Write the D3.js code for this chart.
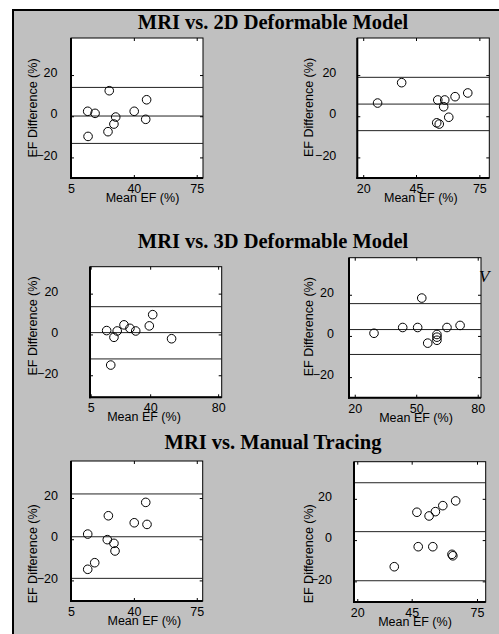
<!DOCTYPE html>
<html>
<head>
<meta charset="utf-8" />
<script src="https://d3js.org/d3.v7.min.js"></script>
<style>
body { margin: 0; background: #fff; }
.title { font-family: "Liberation Serif", "Times New Roman", serif; font-weight: bold; font-size: 20.5px; }
.lbl { font-family: "Liberation Sans", Arial, sans-serif; font-size: 12.5px; }
</style>
</head>
<body>
<script>
// Bland-Altman values: mean EF vs. EF difference (%)
// rows: 2D model, 3D model, manual tracing; left and right column
var mean2D_L = [14.3, 18.4, 26.3, 29.9, 28.9, 25.6, 14.5, 40.2, 47.1, 46.6];
var diff2D_L = [2.4, 1.4, 12.4, -0.4, -3.8, -7.5, -9.8, 2.4, 8.0, -1.5];
var limits2D_L = [14.0, 0.1, -13.2];

var mean2D_R = [26.8, 38.2, 55.3, 58.6, 58.1, 63.5, 69.5, 60.5, 54.8, 56.0];
var diff2D_R = [6.4, 16.3, 7.9, 7.9, 4.6, 9.5, 11.3, -0.5, -3.2, -3.8];
var limits2D_R = [18.9, 5.9, -7.0];

var mean3D_L = [14.4, 18.7, 20.6, 24.6, 28.1, 31.5, 39.5, 41.5, 52.6, 16.8];
var diff3D_L = [1.9, -1.4, 1.7, 4.7, 3.0, 1.7, 4.2, 9.7, -2.1, -15.0];
var limits3D_L = [13.6, 0.9, -12.0];

var mean3D_R = [29.4, 43.4, 50.7, 52.7, 55.6, 60.1, 60.1, 60.1, 65.0, 71.4];
var diff3D_R = [1.3, 4.1, 4.1, 18.4, -3.5, 0.7, -0.6, -2.1, 4.1, 5.1];
var limits3D_R = [15.7, 3.1, -9.0];

var meanMT_L = [14.3, 25.8, 46.6, 40.2, 47.3, 25.2, 28.9, 29.5, 18.2, 14.3];
var diffMT_L = [2.5, 11.4, 17.9, 8.0, 7.2, -0.2, -2.0, -5.7, -11.4, -14.6];
var limitsMT_L = [22.0, 1.2, -19.0];

var meanMT_R = [47.4, 53.0, 55.9, 59.3, 65.2, 48.0, 54.7, 63.5, 63.9, 37.0];
var diffMT_R = [13.5, 11.7, 13.8, 16.7, 19.0, -3.2, -3.2, -6.9, -7.6, -12.9];
var limitsMT_R = [27.8, 4.1, -19.7];

var titles = ["MRI vs. 2D Deformable Model", "MRI vs. 3D Deformable Model", "MRI vs. Manual Tracing"];
var xTicksL = [[5, 40, 75], [5, 40, 80], [5, 40, 75]];
var xTicksR = [[20, 45, 75], [20, 50, 80], [20, 45, 75]];
var yTicks = [-20, 0, 20];
var xLabel = "Mean EF (%)";
var yLabel = "EF Difference (%)";

// layout of each axes box (pixels) and its axis limits
var panels = [
  {mean: mean2D_L, diff: diff2D_L, lim: limits2D_L, xt: xTicksL[0], box: [71, 38, 203, 178], xd: [5, 78.5], yd: [-30, 38], gap: 13.5, ylx: 36.7, lcy: 108, xlc: 142.5},
  {mean: mean2D_R, diff: diff2D_R, lim: limits2D_R, xt: xTicksR[0], box: [357.3, 38, 489.3, 178], xd: [17.2, 79.7], yd: [-30, 38], gap: 21, ylx: 313, lcy: 107.5, xlc: 420.8},
  {mean: mean3D_L, diff: diff3D_L, lim: limits3D_L, xt: xTicksL[1], box: [90, 266.7, 221.7, 397.3], xd: [4.6, 82.1], yd: [-30.8, 33.2], gap: 31.7, ylx: 37, lcy: 326, xlc: 144},
  {mean: mean3D_R, diff: diff3D_R, lim: limits3D_R, xt: xTicksR[1], box: [349, 257.7, 481, 397.7], xd: [17.2, 81.6], yd: [-30, 38], gap: 15, ylx: 313, lcy: 326.7, xlc: 416},
  {mean: meanMT_L, diff: diffMT_L, lim: limitsMT_L, xt: xTicksL[2], box: [71, 461, 202.7, 601], xd: [5, 78.3], yd: [-30, 38], gap: 13, ylx: 36.7, lcy: 553.8, xlc: 144.3},
  {mean: meanMT_R, diff: diffMT_R, lim: limitsMT_R, xt: xTicksR[2], box: [354, 461.7, 485.7, 602], xd: [18.5, 79], yd: [-30, 38], gap: 22, ylx: 313.3, lcy: 553.8, xlc: 415}
];
var titleY = [29.3, 248.3, 449.3];

var W = 499, H = 634;
var svg = d3.select("body").append("svg").attr("width", W).attr("height", H);

// figure background with frame
svg.append("rect").attr("x", 13).attr("y", 10).attr("width", W).attr("height", H)
  .attr("fill", "#c0c0c0").attr("stroke", "#000").attr("stroke-width", 2);

panels.forEach(function(p) {
  var b = p.box;
  var x = d3.scaleLinear().domain(p.xd).range([b[0], b[2]]);
  var y = d3.scaleLinear().domain(p.yd).range([b[3], b[1]]);
  var g = svg.append("g");

  g.append("rect").attr("x", b[0]).attr("y", b[1])
    .attr("width", b[2] - b[0]).attr("height", b[3] - b[1])
    .attr("fill", "#fff").attr("stroke", "#000").attr("stroke-width", 1);

  // limits of agreement
  g.selectAll(".lim").data(p.lim).enter().append("line")
    .attr("x1", b[0]).attr("x2", b[2])
    .attr("y1", function(d) { return y(d); }).attr("y2", function(d) { return y(d); })
    .attr("stroke", "#222").attr("stroke-width", 1);

  // axes, ticks point inward on all four sides
  var ax = [
    [d3.axisBottom(x).tickValues(p.xt).tickSizeInner(-3).tickSizeOuter(0).tickPadding(6), b[3], null],
    [d3.axisTop(x).tickValues(p.xt).tickSizeInner(-3).tickSizeOuter(0).tickFormat(""), b[1], null],
    [d3.axisLeft(y).tickValues(yTicks).tickSizeInner(-3).tickSizeOuter(0).tickPadding(p.gap), null, b[0]],
    [d3.axisRight(y).tickValues(yTicks).tickSizeInner(-3).tickSizeOuter(0).tickFormat(""), null, b[2]]
  ];
  ax.forEach(function(a, k) {
    var ag = g.append("g")
      .attr("transform", a[1] !== null ? "translate(0," + a[1] + ")" : "translate(" + a[2] + ",0)")
      .call(a[0]);
    ag.select(".domain").remove();
    ag.selectAll("line").attr("stroke", "#000");
    ag.selectAll("text").attr("class", "lbl").attr("font-size", null).attr("font-family", null)
      .attr("fill", "#000");
    if (k === 2) ag.selectAll("text").attr("dy", "0.14em");
    ag.attr("font-size", null).attr("font-family", null);
  });

  // heavier left and bottom edges
  g.append("line").attr("x1", b[0]).attr("x2", b[0]).attr("y1", b[1]).attr("y2", b[3] + 1)
    .attr("stroke", "#000").attr("stroke-width", 2);
  g.append("line").attr("x1", b[0] - 1).attr("x2", b[2]).attr("y1", b[3]).attr("y2", b[3])
    .attr("stroke", "#000").attr("stroke-width", 2);

  g.selectAll("circle").data(p.mean).enter().append("circle")
    .attr("cx", function(d) { return x(d); })
    .attr("cy", function(d, i) { return y(p.diff[i]); })
    .attr("r", 4.3)
    .attr("fill", "none").attr("stroke", "#000").attr("stroke-width", 1);

  g.append("text").attr("class", "lbl").attr("text-anchor", "middle")
    .attr("x", p.xlc).attr("y", b[3] + 24).text(xLabel);

  g.append("text").attr("class", "lbl").attr("text-anchor", "middle")
    .attr("transform", "translate(" + p.ylx + "," + p.lcy + ") rotate(-90)")
    .text(yLabel);
});

svg.selectAll(".title").data(titles).enter().append("text")
  .attr("class", "title").attr("text-anchor", "middle")
  .attr("x", 273).attr("y", function(d, i) { return titleY[i]; })
  .text(function(d) { return d; });

// stray glyph at the right edge of the middle row
svg.append("text").attr("x", 479).attr("y", 282)
  .style("font-family", "Liberation Serif, serif").style("font-style", "italic").style("font-size", "17px")
  .text("V");
</script>
</body>
</html>
